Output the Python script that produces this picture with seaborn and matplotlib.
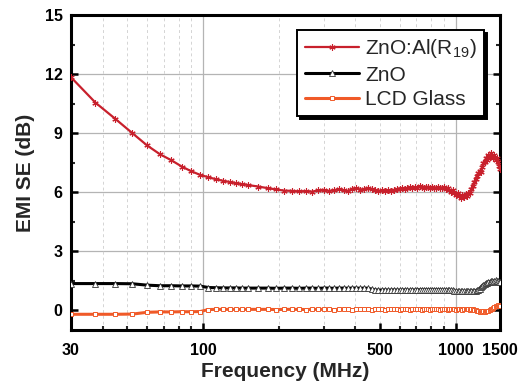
import matplotlib
matplotlib.use("Agg")
import matplotlib.pyplot as plt
import seaborn as sns
import pandas as pd
from matplotlib.ticker import FixedLocator, NullFormatter

freq = [30, 37.5, 45, 52.5, 60, 67.5, 75, 82.5, 90, 97.5, 105, 112.5, 120, 127.5, 135, 142.5, 150,
        165, 180, 195, 210, 225, 240, 255, 270, 285, 300,
        315, 330, 345, 360, 375, 390, 405, 420, 435, 450,
        465, 480, 495, 510, 525, 540, 555, 570, 585, 600,
        615, 630, 645, 660, 675, 690, 705, 720, 735, 750,
        765, 780, 795, 810, 825, 840, 855, 870, 885, 900,
        915, 930, 945, 960, 975, 990, 1005, 1020, 1035, 1050,
        1065, 1080, 1095, 1110, 1125, 1140, 1155, 1170, 1185, 1200,
        1215, 1230, 1245, 1260, 1275, 1290, 1305, 1320, 1335, 1350,
        1365, 1380, 1395, 1410, 1425, 1440, 1455, 1470, 1485, 1500]

zno_al = [11.84, 10.55, 9.72, 9.00, 8.38, 7.93, 7.62, 7.30, 7.06, 6.88, 6.76, 6.66, 6.58, 6.52, 6.46, 6.41, 6.37,
          6.29, 6.21, 6.14, 6.08, 6.07, 6.04, 6.06, 6.03, 6.09, 6.12,
          6.07, 6.10, 6.16, 6.11, 6.05, 6.18, 6.21, 6.13, 6.17, 6.22,
          6.14, 6.10, 6.06, 6.09, 6.04, 6.10, 6.07, 6.12, 6.15, 6.18,
          6.21, 6.16, 6.23, 6.26, 6.20, 6.27, 6.24, 6.30, 6.27, 6.24,
          6.29, 6.26, 6.21, 6.28, 6.24, 6.19, 6.26, 6.20, 6.23, 6.27,
          6.16, 6.21, 6.10, 6.03, 6.09, 5.96, 5.86, 5.95, 5.80, 5.72,
          5.84, 5.76, 5.90, 5.80, 5.98, 5.94, 6.18, 6.34, 6.50, 6.68,
          6.84, 6.98, 7.10, 7.05, 7.30, 7.48, 7.55, 7.72, 7.66, 7.88,
          7.80, 8.00, 7.86, 7.72, 7.88, 7.62, 7.76, 7.52, 7.34, 7.16]

zno = [1.36, 1.36, 1.36, 1.35, 1.28, 1.25, 1.25, 1.24, 1.24, 1.23, 1.16, 1.15, 1.14, 1.14, 1.14, 1.13, 1.13,
       1.13, 1.13, 1.12, 1.13, 1.13, 1.12, 1.13, 1.13, 1.12, 1.13,
       1.13, 1.12, 1.13, 1.13, 1.12, 1.13, 1.13, 1.12, 1.13, 1.12,
       1.08, 1.04, 1.03, 1.03, 1.04, 1.03, 1.03, 1.04, 1.03, 1.03,
       1.03, 1.04, 1.03, 1.03, 1.04, 1.03, 1.05, 1.04, 1.05, 1.04,
       1.05, 1.04, 1.05, 1.04, 1.05, 1.04, 1.05, 1.04, 1.04, 1.03,
       1.04, 1.03, 1.03, 1.02, 1.02, 0.99, 0.97, 0.98, 0.96, 0.97,
       0.96, 0.98, 0.96, 0.97, 0.96, 0.98, 0.97, 0.99, 0.98, 1.00,
       1.02, 1.05, 1.10, 1.18, 1.24, 1.28, 1.33, 1.37, 1.40, 1.44,
       1.42, 1.47, 1.50, 1.46, 1.50, 1.52, 1.47, 1.50, 1.45, 1.42]

lcd_glass = [-0.20, -0.20, -0.20, -0.19, -0.10, -0.08, -0.08, -0.07, -0.07, -0.06, 0.04, 0.05, 0.05, 0.05, 0.05, 0.05, 0.05,
             0.05, 0.05, 0.04, 0.05, 0.05, 0.05, 0.04, 0.05, 0.05, 0.05,
             0.05, 0.04, 0.05, 0.05, 0.05, 0.04, 0.05, 0.05, 0.05, 0.05,
             0.04, 0.05, 0.05, 0.05, 0.04, 0.05, 0.05, 0.05, 0.05, 0.04,
             0.05, 0.05, 0.05, 0.04, 0.05, 0.05, 0.05, 0.05, 0.04, 0.05,
             0.05, 0.05, 0.04, 0.05, 0.05, 0.05, 0.05, 0.04, 0.05, 0.05,
             0.05, 0.04, 0.05, 0.05, 0.05, 0.05, 0.04, 0.05, 0.05, 0.05,
             0.04, 0.05, 0.05, 0.05, 0.05, 0.04, 0.05, 0.05, 0.04, 0.03,
             -0.02, -0.05, -0.06, -0.05, -0.06, -0.05, -0.06, -0.05, -0.04, -0.02,
             0.02, 0.05, 0.08, 0.12, 0.16, 0.20, 0.22, 0.25, 0.22, 0.20]

labels = ["ZnO:Al(R$_{\\mathregular{19}}$)", "ZnO", "LCD Glass"]
x_tick_vals = [30, 100, 500, 1000, 1500]
x_tick_labels = ["30", "100", "500", "1000", "1500"]
y_tick_vals = [0, 3, 6, 9, 12, 15]

sns.set_theme(style="white")
plt.rcParams["font.family"] = ["Liberation Sans", "DejaVu Sans"]
plt.rcParams["mathtext.fontset"] = "custom"
plt.rcParams["mathtext.rm"] = "Liberation Sans"

fig = plt.figure(figsize=(5.26, 3.86), dpi=100)
ax = fig.add_axes([0.135, 0.145, 0.8156, 0.816])

# grid lines
for yv in [3, 6, 9, 12]:
    ax.axhline(yv, color="#b4b4b4", lw=0.9, zorder=0)
for xv in [100, 1000]:
    ax.axvline(xv, color="#b4b4b4", lw=0.9, zorder=0)
minor_x = [40, 50, 60, 70, 80, 90, 200, 300, 400, 500, 600, 700, 800, 900]
for xv in minor_x:
    ax.axvline(xv, color="#d4d4d4", lw=0.7, ls=(0, (3, 3)), zorder=0)

df = pd.DataFrame({"f": freq, "a": zno_al, "b": zno, "c": lcd_glass})

sns.lineplot(data=df, x="f", y="a", ax=ax, color="#c8202c", lw=1.6,
             marker=(6, 2, 0), markersize=4.5, markeredgewidth=0.8,
             markeredgecolor="#c8202c", label=labels[0], zorder=4)
sns.lineplot(data=df, x="f", y="b", ax=ax, color="black", lw=2.2,
             marker="^", markersize=4, markerfacecolor="white",
             markeredgecolor="#333333", markeredgewidth=0.6,
             label=labels[1], zorder=3)
sns.lineplot(data=df, x="f", y="c", ax=ax, color="#f05a28", lw=2.2,
             marker="s", markersize=3.5, markerfacecolor="white",
             markeredgecolor="#f05a28", markeredgewidth=0.7,
             label=labels[2], zorder=3)

ax.set_xscale("log")
ax.set_xlim(30, 1500)
ax.set_ylim(-1, 15)
ax.xaxis.set_major_locator(FixedLocator(x_tick_vals))
ax.set_xticklabels(x_tick_labels)
ax.xaxis.set_minor_locator(FixedLocator([40, 50, 60, 70, 80, 90, 200, 300, 400, 600, 700, 800, 900]))
ax.xaxis.set_minor_formatter(NullFormatter())
ax.set_yticks(y_tick_vals)
ax.yaxis.set_minor_locator(FixedLocator([1.5, 4.5, 7.5, 10.5, 13.5]))

ax.tick_params(axis="both", which="major", direction="in", length=5, width=1.8,
               labelsize=11.5, pad=6, colors="black")
ax.tick_params(axis="x", which="major", pad=9)
ax.tick_params(axis="both", which="minor", direction="in", length=3, width=1.5)
ax.tick_params(axis="y", which="both", left=True, right=True)
ax.tick_params(axis="x", which="both", bottom=True, top=False)
for lab in ax.get_xticklabels() + ax.get_yticklabels():
    lab.set_fontweight("bold")

for sp in ax.spines.values():
    sp.set_visible(True)
    sp.set_color("black")
    sp.set_linewidth(2.2)

ax.set_xlabel("Frequency (MHz)", fontsize=15, fontweight="bold", labelpad=3)
ax.set_ylabel("EMI SE (dB)", fontsize=15, fontweight="bold", labelpad=7)

leg = ax.legend(loc="upper right", bbox_to_anchor=(0.963, 0.952), borderaxespad=0,
                fancybox=False, frameon=True, fontsize=15, handlelength=2.6,
                handletextpad=0.3, labelspacing=0.25, borderpad=0.35,
                shadow={"facecolor": "black", "edgecolor": "black", "alpha": 1})
leg.get_frame().set_edgecolor("black")
leg.get_frame().set_linewidth(1.4)
leg.get_frame().set_facecolor("white")
leg.get_frame().set_alpha(1)

fig.savefig("out.png", dpi=100)
